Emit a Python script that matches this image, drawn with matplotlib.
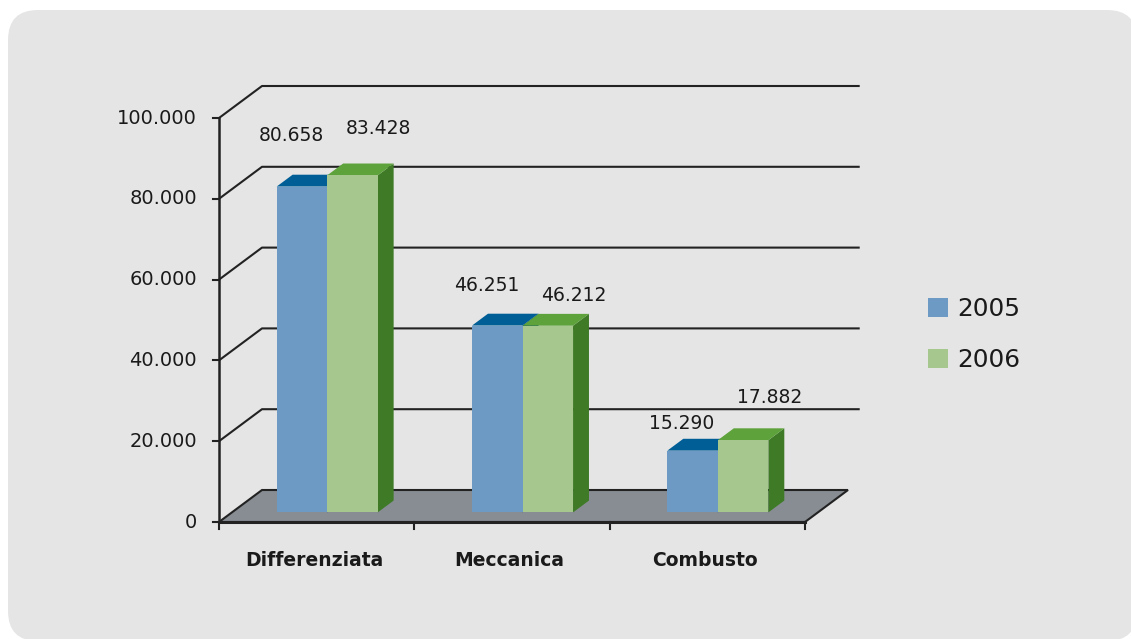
import matplotlib
matplotlib.use('Agg')
import matplotlib.pyplot as plt
from matplotlib.patches import Polygon, FancyBboxPatch, Patch
from matplotlib.transforms import IdentityTransform

plt.rcParams['font.family'] = ['DejaVu Sans']

# data
categories = ['Differenziata', 'Meccanica', 'Combusto']
years = ['2005', '2006']
values_2005 = [80658, 46251, 15290]
values_2006 = [83428, 46212, 17882]
value_labels_2005 = ['80.658', '46.251', '15.290']
value_labels_2006 = ['83.428', '46.212', '17.882']
y_ticks = [0, 20000, 40000, 60000, 80000, 100000]
y_tick_labels = ['0', '20.000', '40.000', '60.000', '80.000', '100.000']

# style
front_colors = ['#6C9AC5', '#A6C78D']
top_colors = ['#005E96', '#5DA23A']
side_colors = ['#004A7A', '#3F7A27']
floor_color = '#878D93'
bg_color = '#E5E5E5'
line_color = '#222222'
text_color = '#1A1A1A'

# projection: pixel scale of the fake 3d box
W, H = 1131, 639
PX_CAT = 195.33          # pixels per category
PX_VAL = 0.00404         # pixels per unit value
X0_PX, Y0_PX = 219, 522  # front-left corner of the floor
DX = 43 / PX_CAT         # full depth, in category units
DY = 32 / PX_VAL         # full depth, in value units
BAR_D0, BAR_D1 = 0.30, 0.67
BAR_W = 0.2586
BAR_SHIFT = -0.012
GRID_END = 2.56

# label offsets in pixels from the front-top centre of each bar
label_dx = [-11, 26]
label_dy = [[51, 40, 27], [47, 30, 43]]


def p(x, v, d=0.0):
    return (x + d * DX, v + d * DY)


fig = plt.figure(figsize=(W / 100, H / 100), dpi=100)
fig.patch.set_facecolor('white')
fig.add_artist(FancyBboxPatch((8, -2), 1129, 631, boxstyle='round,pad=0,rounding_size=30',
                              transform=IdentityTransform(), facecolor=bg_color, edgecolor='none', zorder=0))

ax = fig.add_axes([0, 0, 1, 1])
ax.set_facecolor('none')
ax.axis('off')
ax.set_xlim(-0.5 - X0_PX / PX_CAT, -0.5 + (W - X0_PX) / PX_CAT)
ax.set_ylim((Y0_PX - H) / PX_VAL, Y0_PX / PX_VAL)

x_left, x_right = -0.5, len(categories) - 0.5

# back wall gridlines + left wall diagonals
for v in y_ticks[1:]:
    xs, ys = zip(p(x_left, v), p(x_left, v, 1), p(GRID_END, v, 1))
    ax.plot(xs, ys, color=line_color, lw=1.5, zorder=1, solid_capstyle='butt')

# floor
floor = [p(x_left, 0), p(x_right, 0), p(x_right, 0, 1), p(x_left, 0, 1)]
ax.add_patch(Polygon(floor, closed=True, facecolor=floor_color, edgecolor=line_color, lw=1.5, zorder=2))
ax.plot([x_left, x_right], [0, 0], color=line_color, lw=2.2, zorder=3)

# front value axis
ax.plot([x_left, x_left], [0, y_ticks[-1]], color=line_color, lw=1.8, zorder=3)
for v, lab in zip(y_ticks, y_tick_labels):
    ax.plot([x_left - 6 / PX_CAT, x_left], [v, v], color=line_color, lw=1.5, zorder=3)
    ax.text(x_left - 22 / PX_CAT, v, lab, ha='right', va='center', fontsize=14, color=text_color)

# category ticks and labels
for i in range(len(categories) + 1):
    xt = x_left + i
    ax.plot([xt, xt], [0, -7 / PX_VAL], color=line_color, lw=1.5, zorder=3)
for i, cat in enumerate(categories):
    ax.text(i + BAR_SHIFT, -38 / PX_VAL, cat, ha='center', va='center', fontsize=13.5,
            fontweight='bold', color=text_color)

# bars
series = [values_2005, values_2006]
series_labels = [value_labels_2005, value_labels_2006]
for i in range(len(categories)):
    for s, vals in enumerate(series):
        v = vals[i]
        xa = i + BAR_SHIFT - BAR_W + s * BAR_W
        xb = xa + BAR_W
        front = [p(xa, 0, BAR_D0), p(xb, 0, BAR_D0), p(xb, v, BAR_D0), p(xa, v, BAR_D0)]
        top = [p(xa, v, BAR_D0), p(xb, v, BAR_D0), p(xb, v, BAR_D1), p(xa, v, BAR_D1)]
        side = [p(xb, 0, BAR_D0), p(xb, 0, BAR_D1), p(xb, v, BAR_D1), p(xb, v, BAR_D0)]
        z = 4 + s
        ax.add_patch(Polygon(side, closed=True, facecolor=side_colors[s], edgecolor='none', zorder=z))
        ax.add_patch(Polygon(top, closed=True, facecolor=top_colors[s], edgecolor='none', zorder=z))
        ax.add_patch(Polygon(front, closed=True, facecolor=front_colors[s], edgecolor='none', zorder=z))
        ax.annotate(series_labels[s][i], xy=p((xa + xb) / 2, v, BAR_D0),
                    xytext=(label_dx[s], label_dy[s][i]), textcoords='offset pixels',
                    ha='center', va='center', fontsize=13.5, color=text_color, zorder=6)

handles = [Patch(facecolor=c, edgecolor='none') for c in front_colors]
fig.legend(handles, years, loc='upper left', bbox_to_anchor=(928 / W, 1 - 297 / H), frameon=False,
           fontsize=17.8, handlelength=0.8, handleheight=0.8, handletextpad=0.4,
           labelspacing=1.1, borderpad=0, borderaxespad=0, labelcolor=text_color)

fig.savefig('out.png', dpi=100, facecolor=fig.get_facecolor())
